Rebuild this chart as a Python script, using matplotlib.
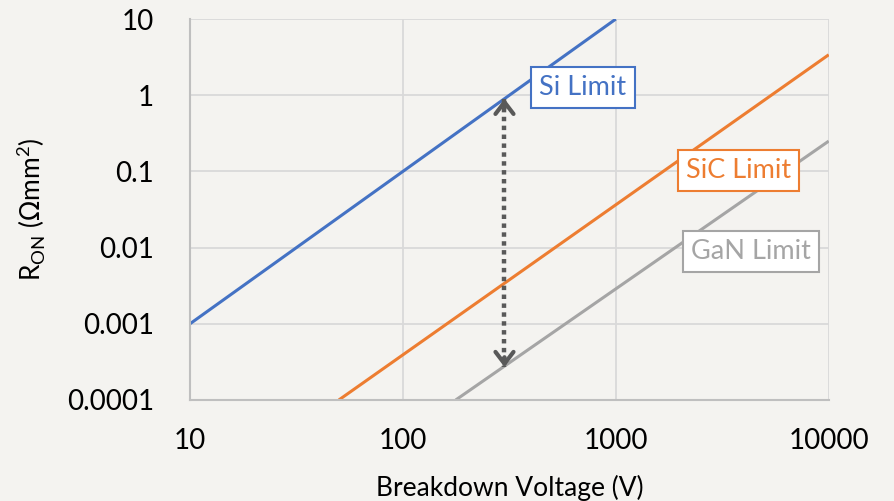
import matplotlib.pyplot as plt

# Limites teoricos de R_ON vs tension de ruptura (extremos de cada recta, log-log)
si_v = [10, 1000]
si_r = [0.001, 10]
sic_v = [50, 10000]
sic_r = [0.0001, 3.4]
gan_v = [177, 10000]
gan_r = [0.0001, 0.25]

arrow_v = 300
arrow_r = [0.9, 0.00027]

x_ticks = [10, 100, 1000, 10000]
x_labels = ['10', '100', '1000', '10000']
y_ticks = [0.0001, 0.001, 0.01, 0.1, 1, 10]
y_labels = ['0.0001', '0.001', '0.01', '0.1', '1', '10']

plt.rcParams['font.family'] = ['Lato', 'DejaVu Sans']
bg = '#f4f3f0'

fig = plt.figure(figsize=(8.94, 5.01), dpi=100, facecolor=bg)
ax = fig.add_axes([0.2125, 0.2016, 0.7145, 0.7604], facecolor=bg)
ax.set_xscale('log')
ax.set_yscale('log')
ax.set_xlim(10, 10000)
ax.set_ylim(0.0001, 10)

ax.plot(si_v, si_r, color='#4472c4', lw=2.2, solid_capstyle='butt')
ax.plot(sic_v, sic_r, color='#ed7d31', lw=2.2, solid_capstyle='butt')
ax.plot(gan_v, gan_r, color='#a5a5a5', lw=2.2, solid_capstyle='butt')

# flecha punteada doble
ax.plot([arrow_v, arrow_v], arrow_r, color='#595959', lw=3.2, linestyle=(0, (1, 1)))
for tip, tail in [(arrow_r[0], arrow_r[0] * 0.75), (arrow_r[1], arrow_r[1] * 1.35)]:
    ax.annotate('', xy=(arrow_v, tip), xytext=(arrow_v, tail),
                arrowprops=dict(arrowstyle='->,head_length=0.85,head_width=0.65',
                                lw=3, color='#595959', shrinkA=0, shrinkB=0))

boxes = [('Si Limit', 700, 1.27, '#4472c4'),
         ('SiC Limit', 3775, 0.103, '#ed7d31'),
         ('GaN Limit', 4300, 0.0088, '#a5a5a5')]
for txt, x, y, c in boxes:
    ax.text(x, y, txt, color=c, fontsize=19.5, ha='center', va='center',
            bbox=dict(boxstyle='square,pad=0.3', fc='white', ec=c, lw=1.5))

ax.set_xticks(x_ticks)
ax.set_xticklabels(x_labels)
ax.set_yticks(y_ticks)
ax.set_yticklabels(y_labels)
ax.minorticks_off()
ax.tick_params(length=0, labelsize=20, pad=26, colors='#000000')
ax.tick_params(axis='x', pad=20)

ax.grid(True, color='#d9d9d9', lw=1.3)
ax.set_axisbelow(True)
for s in ['top', 'right']:
    ax.spines[s].set_visible(False)
for s in ['left', 'bottom']:
    ax.spines[s].set_color('#bfbfbf')
    ax.spines[s].set_linewidth(1.5)

ax.set_xlabel('Breakdown Voltage (V)', fontsize=19, labelpad=15)
ax.set_ylabel(r'R$_{\mathregular{ON}}$ ($\Omega$mm$^{\mathregular{2}}$)', fontsize=19, labelpad=14)

fig.savefig('out.png', dpi=100, facecolor=bg)
